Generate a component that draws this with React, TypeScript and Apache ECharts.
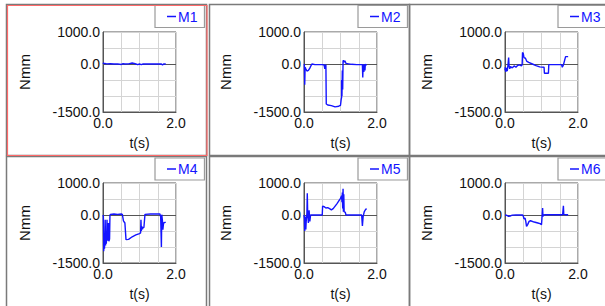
import React, { useEffect, useRef } from "react";
import * as echarts from "echarts";

// Series data: [t (s), Nmm]
const m1Data: [number, number][] = [
  [0, 40], [0.02, 10], [0.05, 20], [0.1, 5], [0.2, 10], [0.3, 0], [0.4, 5], [0.5, -15],
  [0.55, 10], [0.6, 0], [0.7, 5], [0.8, 30], [0.85, 20], [0.9, 0], [0.95, -20], [1.0, 0],
  [1.05, -20], [1.1, 0], [1.2, 5], [1.3, 0], [1.4, 5], [1.5, 0], [1.6, 0], [1.63, -30],
  [1.66, 0], [1.72, 0],
];
const m2Data: [number, number][] = [
  [0, 0], [0.01, -20], [0.02, -650], [0.03, -100], [0.05, -150], [0.08, -220], [0.12, -200],
  [0.16, -130], [0.2, -30], [0.22, 0], [0.3, -20], [0.4, -20], [0.5, -20], [0.55, -30],
  [0.57, -150], [0.59, -40], [0.6, -20], [0.61, -1250], [0.65, -1280], [0.75, -1300],
  [0.85, -1340], [0.95, -1320], [1.0, -1290], [1.02, -1100], [1.03, -1050], [1.03, -500],
  [1.04, -1000], [1.05, -200], [1.06, -800], [1.07, 80], [1.08, 120], [1.1, 60], [1.12, 100],
  [1.15, 20], [1.3, -10], [1.45, -20], [1.55, -20], [1.6, -20], [1.61, -420], [1.62, -30],
  [1.64, -250], [1.65, 0], [1.67, -200], [1.68, -10], [1.7, -30], [1.72, -20],
];
const m3Data: [number, number][] = [
  [0, -200], [0.01, -100], [0.02, -250], [0.04, -120], [0.06, -220], [0.08, -50], [0.1, 200],
  [0.11, -50], [0.13, -150], [0.15, -80], [0.2, -120], [0.25, -60], [0.3, -100], [0.35, -40],
  [0.4, -30], [0.45, -60], [0.47, -20], [0.48, 360], [0.5, 330], [0.52, 200], [0.56, 180],
  [0.6, 80], [0.65, 50], [0.75, 0], [0.85, -50], [0.95, -90], [1.07, -100], [1.08, -290],
  [1.19, -290], [1.2, -20], [1.3, -20], [1.45, -20], [1.55, -20], [1.57, -100], [1.6, -30],
  [1.66, 230], [1.73, 230],
];
const m4Data: [number, number][] = [
  [0, 0], [0.01, -50], [0.02, -1130], [0.03, -700], [0.04, -1050], [0.05, -850], [0.06, -150],
  [0.07, -950], [0.08, -600], [0.09, -900], [0.1, -700], [0.11, -150], [0.12, -800],
  [0.14, -700], [0.15, -250], [0.16, -820], [0.18, -750], [0.19, -30], [0.2, 20], [0.3, 30],
  [0.4, 20], [0.5, 30], [0.53, 20], [0.56, -180], [0.6, -250], [0.63, -770], [0.7, -760],
  [0.8, -680], [0.9, -620], [1.0, -580], [1.03, -560], [1.04, -150], [1.05, -500],
  [1.06, -350], [1.08, -450], [1.1, -380], [1.12, -400], [1.15, 20], [1.3, 30], [1.45, 30],
  [1.56, 30], [1.58, -60], [1.6, -1000], [1.61, 10], [1.63, -200], [1.64, -460],
  [1.66, -250], [1.7, -230], [1.72, -230],
];
const m5Data: [number, number][] = [
  [0, 0], [0.01, -100], [0.02, -500], [0.03, -50], [0.05, -450], [0.06, -200], [0.08, 50],
  [0.09, 680], [0.1, 100], [0.12, -250], [0.14, 150], [0.16, -200], [0.18, 0], [0.3, 0],
  [0.45, 0], [0.5, 0], [0.51, 280], [0.55, 260], [0.6, 220], [0.65, 230], [0.7, 200],
  [0.75, 160], [0.8, 200], [0.9, 350], [1.0, 520], [1.03, 600], [1.04, 400], [1.05, 700],
  [1.06, 200], [1.07, 820], [1.08, 100], [1.09, 650], [1.1, 100], [1.13, 90], [1.15, 0],
  [1.3, 0], [1.45, 0], [1.58, 0], [1.6, -340], [1.62, -50], [1.65, 100], [1.69, 180],
  [1.72, 190],
];
const m6Data: [number, number][] = [
  [0, -10], [0.05, -10], [0.1, -40], [0.15, -30], [0.2, -5], [0.3, 0], [0.4, 0], [0.48, 0],
  [0.5, -30], [0.52, -120], [0.55, -100], [0.57, -200], [0.59, -360], [0.62, -300],
  [0.66, -200], [0.7, -180], [0.8, -220], [0.9, -250], [0.96, -270], [1.0, -300],
  [1.01, -150], [1.03, 220], [1.04, -50], [1.05, 0], [1.1, 10], [1.3, 10], [1.5, 10],
  [1.58, 10], [1.6, 290], [1.61, 20], [1.65, 10], [1.73, 10],
];

const seriesNames = ["M1", "M2", "M3", "M4", "M5", "M6"];
const seriesData = [m1Data, m2Data, m3Data, m4Data, m5Data, m6Data];
const xLabelValues = [0, 2];
const yLabelValues = [1000, 0, -1500];
const xAxisName = "t(s)";
const yAxisName = "Nmm";

const FONT = "'Liberation Sans', Arial, sans-serif";
const BLUE = "#1414ff";

export default function App() {
  const ref = useRef<HTMLDivElement>(null);
  useEffect(() => {
    if (!ref.current) return;
    const chart = echarts.init(ref.current, undefined, { renderer: "svg" });
    const grids: any[] = [];
    const xAxes: any[] = [];
    const yAxes: any[] = [];
    const series: any[] = [];
    const legends: any[] = [];
    const graphics: any[] = [];
    const colX = [6, 209, 409];
    const rowY = [5, 157];
    seriesNames.forEach((name, i) => {
      const c = i % 3;
      const r = Math.floor(i / 3);
      grids.push({
        left: 103 + 201 * c,
        top: 32 + 151 * r,
        width: 73,
        height: 80,
        show: true,
        borderColor: "#555",
        borderWidth: 1,
        backgroundColor: "transparent",
      });
      xAxes.push({
        type: "value",
        gridIndex: i,
        min: 0,
        max: 2,
        interval: 0.5,
        name: xAxisName,
        nameLocation: "middle",
        nameGap: 24,
        nameTextStyle: { fontFamily: FONT, fontSize: 14, color: "#111" },
        axisLine: { show: true, onZero: false, lineStyle: { color: "#555" } },
        axisTick: { show: false },
        splitLine: { show: true, lineStyle: { color: "#d4d4d4", width: 1 } },
        axisLabel: {
          fontFamily: FONT,
          fontSize: 14,
          color: "#111",
          margin: 4,
          formatter: (v: number) => (xLabelValues.includes(v) ? v.toFixed(1) : ""),
        },
      });
      yAxes.push({
        type: "value",
        gridIndex: i,
        min: -1500,
        max: 1000,
        interval: 500,
        name: yAxisName,
        nameLocation: "middle",
        nameGap: 71,
        nameTextStyle: { fontFamily: FONT, fontSize: 15, color: "#111" },
        axisLine: { show: true, lineStyle: { color: "#555" } },
        axisTick: { show: false },
        splitLine: { show: true, lineStyle: { color: "#d4d4d4", width: 1 } },
        axisLabel: {
          fontFamily: FONT,
          fontSize: 14,
          color: "#111",
          margin: 3,
          formatter: (v: number) => (yLabelValues.includes(v) ? v.toFixed(1) : ""),
        },
      });
      series.push({
        name,
        type: "line",
        xAxisIndex: i,
        yAxisIndex: i,
        data: seriesData[i],
        showSymbol: false,
        symbol: "none",
        lineStyle: { color: BLUE, width: 1.4 },
        itemStyle: { color: BLUE },
        markLine: {
          silent: true,
          symbol: "none",
          label: { show: false },
          lineStyle: { color: "#555", type: "solid", width: 1 },
          data: [{ yAxis: 0 }],
          z: 1,
        },
        z: 3,
      });
      // panel border
      graphics.push({
        type: "rect",
        shape: { x: colX[c] + 0.5, y: rowY[r] - 0.5, width: 200, height: 151 },
        style: { fill: "none", stroke: "#7a7a7a", lineWidth: 1.5 },
        z: 0,
        silent: true,
      });
      legends.push({
        data: [name],
        left: colX[c] + 149,
        top: rowY[r] + (r === 0 ? 0.5 : 1),
        width: 60,
        orient: "horizontal",
        backgroundColor: "#fff",
        borderColor: "#9a9a9a",
        borderWidth: 1.2,
        padding: [4, 7, 4, 12],
        icon: "rect",
        itemWidth: 9,
        itemHeight: 1.5,
        itemStyle: { color: BLUE },
        textStyle: { fontFamily: FONT, fontSize: 14, color: BLUE, padding: [0, 0, 0, -3] },
        selectedMode: false,
      });
    });
    // selected (red) frame on first panel
    graphics.push({
      type: "rect",
      shape: { x: 7.5, y: 5.5, width: 199.5, height: 150 },
      style: { fill: "none", stroke: "#ff6a6a", lineWidth: 1.2 },
      z: 10,
      silent: true,
    });
    chart.setOption({
      animation: false,
      backgroundColor: "#fff",
      grid: grids,
      xAxis: xAxes,
      yAxis: yAxes,
      series,
      legend: legends,
      graphic: graphics,
    });
    return () => chart.dispose();
  }, []);
  return (
    <div style={{ position: "fixed", left: 0, top: 0, width: 605, height: 306, background: "#fff" }}>
      <div ref={ref} style={{ width: 605, height: 306 }} />
    </div>
  );
}
